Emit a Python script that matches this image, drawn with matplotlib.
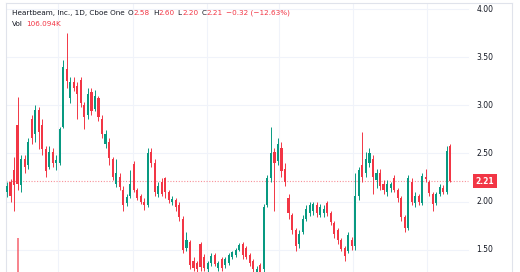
import matplotlib
matplotlib.use('Agg')
import matplotlib.pyplot as plt

# daily OHLC
opens = [2.10, 2.20, 2.33, 2.80, 2.17, 2.44, 2.38, 2.86, 2.70, 2.95,
         2.80, 2.55, 2.36, 2.52, 2.40, 2.40, 2.78, 3.38, 3.08, 3.24,
         3.20, 3.26, 3.00, 2.90, 3.14, 2.96, 3.08, 2.86, 2.60, 2.62,
         2.44, 2.18, 2.26, 2.12, 1.98, 2.06, 2.39, 2.12, 2.06, 2.00,
         1.96, 2.52, 2.40, 2.08, 2.20, 2.24, 2.10, 2.00, 2.02, 1.96,
         1.82, 1.52, 1.58, 1.38, 1.36, 1.56, 1.42, 1.30, 1.36, 1.44,
         1.31, 1.40, 1.34, 1.36, 1.42, 1.44, 1.50, 1.56, 1.52, 1.44,
         1.38, 1.27, 1.34, 1.30, 1.96, 2.24, 2.52, 2.42, 2.56, 2.34,
         2.04, 1.86, 1.70, 1.56, 1.68, 1.82, 1.88, 1.90, 1.96, 1.86,
         1.88, 1.98, 1.88, 1.78, 1.70, 1.60, 1.52, 1.48, 1.60, 1.54,
         2.06, 2.38, 2.30, 2.40, 2.44, 2.22, 2.30, 2.18, 2.10, 2.14,
         2.24, 2.12, 2.04, 1.84, 1.72, 2.20, 1.98, 2.06, 1.98, 2.26,
         2.20, 2.08, 1.98, 2.08, 2.14, 2.10, 2.58]
highs = [2.20, 2.23, 2.46, 3.09, 2.48, 2.48, 2.66, 2.90, 3.00, 2.98,
         2.86, 2.58, 2.58, 2.56, 2.48, 2.78, 3.47, 3.75, 3.30, 3.30,
         3.24, 3.30, 3.04, 3.18, 3.18, 3.16, 3.10, 2.90, 2.74, 2.66,
         2.46, 2.44, 2.30, 2.16, 2.08, 2.33, 2.42, 2.14, 2.08, 2.04,
         2.56, 2.56, 2.44, 2.20, 2.24, 2.26, 2.12, 2.06, 2.04, 1.99,
         1.85, 1.68, 1.60, 1.42, 1.38, 1.58, 1.45, 1.38, 1.46, 1.46,
         1.38, 1.42, 1.42, 1.46, 1.48, 1.52, 1.57, 1.58, 1.54, 1.46,
         1.40, 1.33, 1.36, 1.97, 2.28, 2.78, 2.56, 2.66, 2.62, 2.40,
         2.08, 1.88, 1.72, 1.70, 1.86, 1.96, 1.99, 2.00, 1.99, 1.97,
         1.96, 2.01, 1.90, 1.80, 1.72, 1.62, 1.54, 1.68, 1.63, 2.30,
         2.36, 2.72, 2.52, 2.56, 2.48, 2.34, 2.34, 2.22, 2.22, 2.20,
         2.28, 2.14, 2.06, 1.86, 2.28, 2.24, 2.10, 2.08, 2.30, 2.34,
         2.22, 2.10, 2.10, 2.18, 2.17, 2.58, 2.60]
lows = [2.05, 2.00, 1.90, 2.12, 2.10, 2.30, 2.34, 2.60, 2.62, 2.55,
        2.48, 2.26, 2.34, 2.36, 2.33, 2.38, 2.76, 3.18, 3.02, 3.15,
        2.86, 2.98, 2.75, 2.86, 2.90, 2.94, 2.84, 2.66, 2.56, 2.38,
        2.22, 2.15, 2.12, 1.90, 1.95, 2.04, 2.10, 2.02, 1.97, 1.91,
        1.94, 2.36, 2.06, 2.05, 2.06, 2.04, 1.98, 1.96, 1.90, 1.80,
        1.46, 1.49, 1.30, 1.28, 1.27, 1.28, 1.28, 1.27, 1.33, 1.33,
        1.28, 1.28, 1.31, 1.34, 1.40, 1.42, 1.48, 1.40, 1.40, 1.33,
        1.27, 1.24, 1.22, 1.26, 1.94, 2.20, 1.90, 2.38, 2.26, 2.16,
        1.82, 1.66, 1.48, 1.52, 1.66, 1.80, 1.85, 1.86, 1.84, 1.84,
        1.84, 1.85, 1.76, 1.62, 1.56, 1.48, 1.38, 1.46, 1.50, 1.50,
        2.02, 2.20, 2.26, 2.36, 2.08, 2.14, 2.12, 2.08, 2.06, 2.10,
        2.10, 2.00, 1.80, 1.68, 1.70, 1.96, 1.94, 1.96, 1.96, 2.20,
        2.06, 1.90, 1.96, 2.06, 2.08, 2.08, 2.20]
closes = [2.16, 2.06, 2.17, 2.18, 2.44, 2.36, 2.62, 2.66, 2.95, 2.72,
          2.55, 2.32, 2.52, 2.40, 2.43, 2.75, 3.40, 3.25, 3.24, 3.18,
          3.12, 3.02, 2.88, 3.12, 2.94, 3.10, 2.88, 2.70, 2.70, 2.45,
          2.26, 2.30, 2.15, 1.96, 2.05, 2.18, 2.12, 2.04, 1.99, 1.96,
          2.50, 2.40, 2.10, 2.16, 2.08, 2.10, 2.02, 2.03, 1.94, 1.84,
          1.50, 1.60, 1.34, 1.31, 1.30, 1.32, 1.31, 1.36, 1.43, 1.35,
          1.36, 1.31, 1.40, 1.44, 1.47, 1.50, 1.55, 1.44, 1.42, 1.36,
          1.30, 1.30, 1.25, 1.94, 2.24, 2.50, 2.40, 2.60, 2.32, 2.20,
          1.88, 1.70, 1.54, 1.66, 1.82, 1.92, 1.96, 1.97, 1.88, 1.94,
          1.92, 1.88, 1.79, 1.66, 1.60, 1.51, 1.43, 1.65, 1.54, 2.06,
          2.33, 2.26, 2.44, 2.50, 2.26, 2.30, 2.16, 2.12, 2.18, 2.18,
          2.12, 2.04, 1.84, 1.72, 2.24, 2.00, 2.06, 1.99, 2.27, 2.23,
          2.09, 1.97, 2.08, 2.15, 2.10, 2.53, 2.21]

# only the tallest volume bar pokes into view
vol_index = [3]
vol_value = [3.1e6]

price_ticks = [1.50, 2.00, 2.50, 3.00, 3.50, 4.00]
month_lines = [14.5, 35.8, 56.8, 77.3, 98.3, 119.3]
last_price = 2.21

up_col = '#089981'
dn_col = '#f23645'
txt_col = '#131722'
grid_col = '#f0f3fa'

W, H = 520, 272
fig = plt.figure(figsize=(W / 100, H / 100), dpi=100)

# main pane: frame from x=6..512 px, y=3..272 px
ax = fig.add_axes([6 / W, 0, (512 - 6) / W, (H - 3) / H])
ax.set_xlim(-0.28, 143.5)
ax.set_ylim(1.2664, 4.0656)
ax.set_xticks([])
ax.set_yticks([])
for s in ['left', 'top', 'right']:
    ax.spines[s].set_color('#e0e3eb')
    ax.spines[s].set_linewidth(0.8)
ax.spines['bottom'].set_visible(False)

pane_end = (468 - 6) / (512 - 6)
for p in price_ticks:
    ax.axhline(p, xmin=0, xmax=pane_end, color=grid_col, lw=0.8, zorder=0)
for m in month_lines:
    ax.axvline(m, color=grid_col, lw=0.8, zorder=0)

# volume pane, mostly below the picture
vax = fig.add_axes([6 / W, -28 / H, (512 - 6) / W, 100 / H])
vax.set_xlim(ax.get_xlim())
vax.set_ylim(0, 5e6)
vax.axis('off')
vax.patch.set_alpha(0)
vax.bar(vol_index, vol_value, width=0.55, color=dn_col, alpha=0.6)

for i in range(len(closes)):
    o, h, l, c = opens[i], highs[i], lows[i], closes[i]
    col = up_col if c >= o else dn_col
    ax.vlines(i, l, h, color=col, lw=0.7, zorder=2)
    body = max(abs(c - o), 0.008)
    ax.bar(i, body, bottom=min(o, c), width=0.6, color=col, lw=0, zorder=3)

# last price line and tag
ax.axhline(last_price, xmin=0, xmax=pane_end, color=dn_col, lw=0.8, alpha=0.55,
           ls=(0, (1, 1.5)), zorder=1)
lab_x = (485 - 6) / (512 - 6)
for p in price_ticks:
    ax.text(lab_x, p, '%.2f' % p, transform=ax.get_yaxis_transform(),
            ha='center', va='center', fontsize=5.5, color=txt_col)
ax.text(lab_x, last_price, '%.2f' % last_price, transform=ax.get_yaxis_transform(),
        ha='center', va='center', fontsize=5.5, color='white', fontweight='bold',
        bbox=dict(boxstyle='square,pad=0.35', fc=dn_col, ec='none'), zorder=5)

# legend line at the top left
renderer = fig.canvas.get_renderer()


def line_of(parts, x_px, y_px):
    x = x_px
    for s, col, gap in parts:
        t = fig.text(x / W, 1 - y_px / H, s, color=col, fontsize=5.2,
                     ha='left', va='center')
        bb = t.get_window_extent(renderer)
        x = bb.x1 + gap


line_of([('Heartbeam, Inc., 1D, Cboe One', txt_col, 3),
         ('O', txt_col, 0.3), ('2.58', dn_col, 3),
         ('H', txt_col, 0.3), ('2.60', dn_col, 3),
         ('L', txt_col, 0.3), ('2.20', dn_col, 3),
         ('C', txt_col, 0.3), ('2.21', dn_col, 3),
         ('\u22120.32 (\u221212.63%)', dn_col, 0)], 12, 13)
line_of([('Vol', txt_col, 3), ('106.094K', dn_col, 0)], 12, 24)

fig.savefig('out.png', dpi=100)
